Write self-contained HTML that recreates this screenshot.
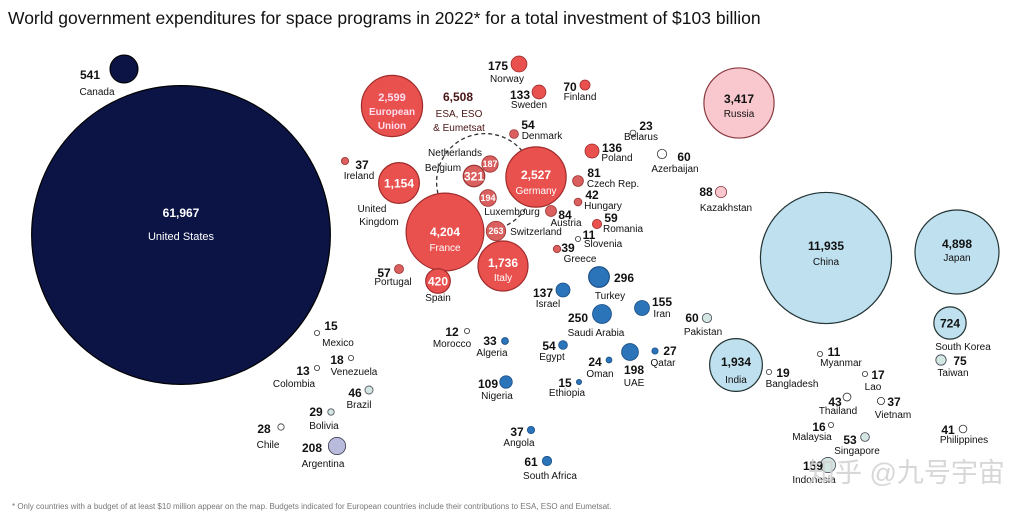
<!DOCTYPE html>
<html><head><meta charset="utf-8">
<style>
html,body{margin:0;padding:0;background:#fff;}
svg{display:block;font-family:"Liberation Sans",Arial,sans-serif;}
.n{font-weight:bold;font-size:12px;fill:#111;}
.l{font-size:10px;fill:#111;}
</style></head>
<body>
<svg id="chart" width="1024" height="516" viewBox="0 0 1024 516">
<text x="8" y="24" font-size="17.5" fill="#111">World government expenditures for space programs in 2022* for a total investment of $103 billion</text>
<text x="12" y="509" font-size="8" fill="#777">* Only countries with a budget of at least  $10 million appear on the map. Budgets indicated for European countries include their contributions to ESA, ESO and Eumetsat.</text>
<g id="bubbles"></g>
<text x="808" y="482" font-size="27" fill="#d0d0d0" fill-opacity="0.85" font-family="'Liberation Sans','Noto Sans CJK SC',sans-serif">知乎 @九号宇宙</text>
</svg>
<script>
const countries = ["Canada","United States","European Union","ESA, ESO & Eumetsat","Norway","Sweden","Finland","Denmark","Belarus","Poland","Azerbaijan","Ireland","United Kingdom","Netherlands","Belgium","Luxembourg","Germany","France","Switzerland","Czech Rep.","Hungary","Austria","Romania","Slovenia","Greece","Italy","Portugal","Spain","Kazakhstan","Russia","China","Japan","Turkey","Israel","Iran","Saudi Arabia","Pakistan","Morocco","Algeria","Egypt","Oman","UAE","Qatar","Ethiopia","Nigeria","Angola","South Africa","Mexico","Venezuela","Colombia","Brazil","Bolivia","Chile","Argentina","India","South Korea","Taiwan","Myanmar","Bangladesh","Lao","Thailand","Vietnam","Malaysia","Singapore","Philippines","Indonesia"];
const budgets = [541,61967,2599,6508,175,133,70,54,23,136,60,37,1154,187,321,194,2527,4204,263,81,42,84,59,11,39,1736,57,420,88,3417,11935,4898,296,137,155,250,60,12,33,54,24,198,27,15,109,37,61,15,18,13,46,29,28,208,1934,724,75,11,19,17,43,37,16,53,41,159];
const C={nv:["#0b1445","#000"],rd:["#e9514f","#a02b2b"],rs:["#d9605e","#9a3333"],bl:["#2b74b9","#1b4f86"],lb:["#bfe0ee","#233"],pk:["#f8c8ce","#8a3a40"],lv:["#b9bbdc","#334"],gr:["#d3e6e1","#445"],wh:["#fff","#333"]};
const layout=[
[124,69,"nv",[90,79,"middle"],[97,95,"middle"]],
[181,235,"nv","in","in"],
[392,106,"rd","in","in"],
[485,182,"ds",[458,101,"middle"],[459,117,"middle"]],
[519,64,"rd",[498,70,"middle"],[507,82,"middle"]],
[539,92,"rd",[520,99,"middle"],[529,108,"middle"]],
[585,85,"rd",[570,91,"middle"],[580,100,"middle"]],
[514,134,"rs",[528,129,"middle"],[542,139,"middle"]],
[633,133,"wh",[646,130,"middle"],[641,140,"middle"]],
[592,151,"rd",[612,152,"middle"],[617,161,"middle"]],
[662,154,"wh",[684,161,"middle"],[675,172,"middle"]],
[345,161,"rs",[362,169,"middle"],[359,179,"middle"]],
[399,183,"rd","in",[372,212,"middle"]],
[490,164,"rs","in",[455,156,"middle"]],
[474,176,"rs","in",[443,171,"middle"]],
[488,198,"rs","in",[512,215,"middle"]],
[536,177,"rd","in","in"],
[445,232,"rd","in","in"],
[496,231,"rs","in",[536,235,"middle"]],
[578,181,"rs",[594,177,"middle"],[613,187,"middle"]],
[578,202,"rs",[592,199,"middle"],[603,209,"middle"]],
[551,211,"rs",[565,219,"middle"],[566,226,"middle"]],
[597,224,"rd",[611,222,"middle"],[623,232,"middle"]],
[578,239,"wh",[589,239,"middle"],[603,247,"middle"]],
[557,249,"rs",[568,252,"middle"],[580,262,"middle"]],
[503,266,"rd","in","in"],
[399,269,"rs",[384,277,"middle"],[393,285,"middle"]],
[438,281,"rd","in",[438,301,"middle"]],
[721,192,"pk",[706,196,"middle"],[726,211,"middle"]],
[739,103,"pk","in","in"],
[826,258,"lb","in","in"],
[957,252,"lb","in","in"],
[599,277,"bl",[624,282,"middle"],[610,299,"middle"]],
[563,290,"bl",[543,297,"middle"],[548,307,"middle"]],
[642,308,"bl",[662,306,"middle"],[662,317,"middle"]],
[602,314,"bl",[578,322,"middle"],[596,336,"middle"]],
[707,318,"gr",[692,322,"middle"],[703,335,"middle"]],
[467,331,"wh",[452,336,"middle"],[452,347,"middle"]],
[505,341,"bl",[490,345,"middle"],[492,356,"middle"]],
[563,345,"bl",[549,350,"middle"],[552,360,"middle"]],
[609,360,"bl",[595,366,"middle"],[600,377,"middle"]],
[630,352,"bl",[634,374,"middle"],[634,386,"middle"]],
[655,351,"bl",[670,355,"middle"],[663,366,"middle"]],
[579,382,"bl",[565,387,"middle"],[567,396,"middle"]],
[506,382,"bl",[488,388,"middle"],[497,399,"middle"]],
[531,430,"bl",[517,436,"middle"],[519,446,"middle"]],
[547,461,"bl",[531,466,"middle"],[550,479,"middle"]],
[317,333,"wh",[331,330,"middle"],[338,346,"middle"]],
[351,358,"wh",[337,364,"middle"],[354,375,"middle"]],
[317,368,"wh",[303,375,"middle"],[294,387,"middle"]],
[369,390,"gr",[355,397,"middle"],[359,408,"middle"]],
[331,412,"gr",[316,416,"middle"],[324,429,"middle"]],
[281,427,"wh",[264,433,"middle"],[268,448,"middle"]],
[337,446,"lv",[312,452,"middle"],[323,467,"middle"]],
[736,365,"lb","in","in"],
[950,323,"lb","in",[963,350,"middle"]],
[941,360,"gr",[960,365,"middle"],[953,376,"middle"]],
[820,354,"wh",[834,356,"middle"],[841,366,"middle"]],
[769,372,"wh",[783,377,"middle"],[792,387,"middle"]],
[865,374,"wh",[878,379,"middle"],[873,390,"middle"]],
[847,397,"wh",[835,406,"middle"],[838,414,"middle"]],
[881,401,"wh",[894,406,"middle"],[893,418,"middle"]],
[831,425,"wh",[819,431,"middle"],[812,440,"middle"]],
[865,437,"gr",[850,444,"middle"],[857,454,"middle"]],
[963,429,"wh",[948,434,"middle"],[964,443,"middle"]],
[828,465,"gr",[813,470,"middle"],[814,483,"middle"]]
];
const inside={
"United States":[[0,-22,"12","bold"],[0,2,"11",""]],
"China":[[0,-12,"12","bold"],[0,4,"10",""]],
"Japan":[[0,-8,"12","bold"],[0,6,"10",""]],
"Russia":[[0,-4,"12","bold"],[0,11,"10",""]],
"Germany":[[0,-2,"12","bold"],[0,14,"10",""]],
"France":[[0,0,"12","bold"],[0,16,"10",""]],
"Italy":[[0,-3,"12","bold"],[0,12,"10",""]],
"India":[[0,-3,"12","bold"],[0,15,"10",""]]
};
const NS="http://www.w3.org/2000/svg";
const g=document.getElementById('bubbles');
const rScale=v=>Math.max(2.6,0.6*Math.sqrt(v));
const fmt=v=>v.toLocaleString('en-US');
function T(x,y,s,cls,anchor,extra){const t=document.createElementNS(NS,'text');t.setAttribute('x',x);t.setAttribute('y',y);t.setAttribute('text-anchor',anchor||'middle');if(cls)t.setAttribute('class',cls);if(extra)for(const k in extra)t.setAttribute(k,extra[k]);t.textContent=s;g.appendChild(t);return t;}
const order=countries.map((c,i)=>i).sort((a,b)=>budgets[b]-budgets[a]);
order.forEach(i=>{
 const [cx,cy,col]=layout[i];const r=rScale(budgets[i]);
 const c=document.createElementNS(NS,'circle');
 c.setAttribute('cx',cx);c.setAttribute('cy',cy);c.setAttribute('r',r);
 if(col==="ds"){c.setAttribute('fill','none');c.setAttribute('stroke','#333');c.setAttribute('stroke-dasharray','4,3');c.setAttribute('stroke-width','1.3');}
 else{c.setAttribute('fill',C[col][0]);c.setAttribute('stroke',C[col][1]);c.setAttribute('stroke-width',r>10?1.2:0.8);}
 
 
 g.appendChild(c);
});
countries.forEach((name,i)=>{
 const [cx,cy,col,nl,ml]=layout[i];const v=budgets[i];
 const dark=(col==="lb"||col==="pk");const fc=dark?"#111":"#fff";
 if(inside[name]){
  const [a,b]=inside[name];
  T(cx+a[0],cy+a[1]+4,fmt(v),null,'middle',{'font-size':a[2],'font-weight':'bold',fill:fc});
  T(cx+b[0],cy+b[1]+3,name,null,'middle',{'font-size':b[2],fill:fc});
  return;
 }
 if(name==="European Union"){
  T(cx,cy-5,fmt(v),null,'middle',{'font-size':'11','font-weight':'bold',fill:'#fde'});
  T(cx,cy+9,'European',null,'middle',{'font-size':'10','font-weight':'bold',fill:'#fde'});
  T(cx,cy+23,'Union',null,'middle',{'font-size':'10','font-weight':'bold',fill:'#fde'});
  return;
 }
 if(name==="ESA, ESO & Eumetsat"){
  T(nl[0],nl[1],fmt(v),null,'middle',{'font-size':'12','font-weight':'bold',fill:'#4a1515'});
  T(ml[0],ml[1],'ESA, ESO',null,'middle',{'font-size':'10',fill:'#4a1515'});
  T(ml[0],ml[1]+14,'& Eumetsat',null,'middle',{'font-size':'10',fill:'#4a1515'});
  return;
 }
 if(nl==="in"){
  const r=rScale(v);const fs=r<10?9:12;
  T(cx,cy+fs*0.36,fmt(v),null,'middle',{'font-size':fs,'font-weight':'bold',fill:dark?'#111':'#fff'});
 } else T(nl[0],nl[1],fmt(v),'n',nl[2]);
 if(name==="United Kingdom"){T(ml[0],ml[1],'United','l');T(ml[0]+7,ml[1]+13,'Kingdom','l');}
 else if(ml!=="in") T(ml[0],ml[1],name,'l',ml[2]);
});
</script>
</body></html>
